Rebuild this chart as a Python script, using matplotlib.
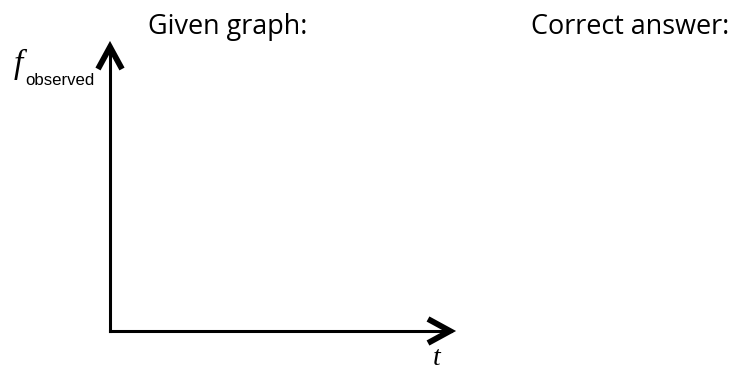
import matplotlib.pyplot as plt

W, H = 739, 371
titles = ['Given graph:', 'Correct answer:']
y_name, y_sub = 'f', 'observed'
x_name = 't'

# layout in pixels (origin top-left)
origin = (110, 331)
x_tip, y_tip = 455, 42
head_len, head_half = 22, 12

fig = plt.figure(figsize=(W / 100, H / 100), dpi=100)
ax = fig.add_axes([0, 0, 1, 1])
ax.set_xlim(0, W)
ax.set_ylim(H, 0)
ax.axis('off')

ox, oy = origin
miter = 5
# shafts
ax.plot([ox, x_tip - 4], [oy, oy], color='black', lw=2.2, solid_capstyle='projecting')
ax.plot([ox, ox], [oy, y_tip + 4], color='black', lw=2.2, solid_capstyle='projecting')
# chevron heads
xt = x_tip - miter
ax.plot([xt - head_len, xt, xt - head_len], [oy - head_half, oy, oy + head_half],
        color='black', lw=4.2, solid_joinstyle='miter', solid_capstyle='butt')
yt = y_tip + miter
ax.plot([ox - head_half, ox, ox + head_half], [yt + head_len, yt, yt + head_len],
        color='black', lw=4.2, solid_joinstyle='miter', solid_capstyle='butt')

r = fig.canvas.get_renderer()


def fit(txt, width):
    bb = txt.get_window_extent(r)
    txt.set_fontsize(txt.get_fontsize() * width / bb.width)


t1 = ax.text(148, 34, titles[0], fontsize=16, family='Open Sans', va='baseline', ha='left')
fit(t1, 160)
ax.text(531, 34, titles[1], fontsize=t1.get_fontsize(), family='Open Sans',
        va='baseline', ha='left')

ax.text(14, 73, y_name, fontsize=24, family='Liberation Serif', style='italic',
        va='baseline', ha='left')
sub = ax.text(25, 85, y_sub, fontsize=13, family='Liberation Sans', va='baseline', ha='left')
fit(sub, 69)
ax.text(433, 365, x_name, fontsize=20, family='Liberation Serif', style='italic',
        va='baseline', ha='left')

fig.savefig('out.png', dpi=100, facecolor='white')
